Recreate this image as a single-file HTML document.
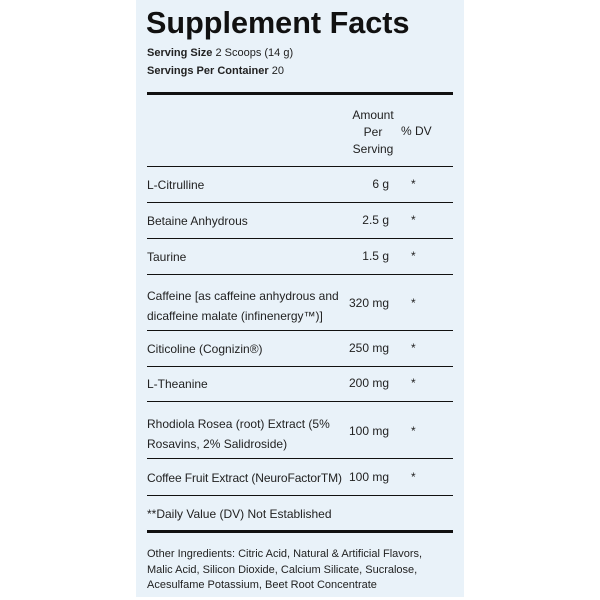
<!DOCTYPE html>
<html><head><style>
body{margin:0;width:600px;height:600px;background:#fff;position:relative;overflow:hidden;font-family:"Liberation Sans",Arial,sans-serif;color:#222}
#p{position:absolute;left:136px;top:0;width:328px;height:597px;background:#e9f2f9}
.t{position:absolute;white-space:nowrap;font-size:12px;line-height:14px}
.l{position:absolute;left:147px;width:306px;background:#111}
.r{text-align:right;width:80px}
</style></head><body>
<div id="p"></div>
<div class="t" style="left:146px;top:5px;font-size:30.6px;line-height:36px;font-weight:bold;color:#111">Supplement Facts</div>
<div class="t" style="left:147px;top:46px;font-size:11px"><b>Serving Size</b> 2 Scoops (14 g)</div>
<div class="t" style="left:147px;top:64px;font-size:11px"><b>Servings Per Container</b> 20</div>
<div class="l" style="top:92px;height:3px"></div>
<div class="t" style="left:352px;top:107px;text-align:center;width:42px;line-height:17px">Amount<br>Per<br>Serving</div>
<div class="t" style="left:401px;top:124px">% DV</div>
<div class="l" style="top:166px;height:1px"></div>

<div class="t" style="left:147px;top:178px">L-Citrulline</div><div class="t r" style="left:309px;top:177px">6 g</div><div class="t" style="left:411px;top:177px">*</div>
<div class="l" style="top:202px;height:1px"></div>
<div class="t" style="left:147px;top:214px">Betaine Anhydrous</div><div class="t r" style="left:309px;top:213px">2.5 g</div><div class="t" style="left:411px;top:213px">*</div>
<div class="l" style="top:238px;height:1px"></div>
<div class="t" style="left:147px;top:250px">Taurine</div><div class="t r" style="left:309px;top:249px">1.5 g</div><div class="t" style="left:411px;top:249px">*</div>
<div class="l" style="top:274px;height:1px"></div>
<div class="t" style="left:147px;top:286px;line-height:20px">Caffeine [as caffeine anhydrous and<br>dicaffeine malate (infinenergy™)]</div><div class="t r" style="left:309px;top:296px">320 mg</div><div class="t" style="left:411px;top:296px">*</div>
<div class="l" style="top:330px;height:1px"></div>
<div class="t" style="left:147px;top:342px">Citicoline (Cognizin®)</div><div class="t r" style="left:309px;top:341px">250 mg</div><div class="t" style="left:411px;top:341px">*</div>
<div class="l" style="top:366px;height:1px"></div>
<div class="t" style="left:147px;top:377px">L-Theanine</div><div class="t r" style="left:309px;top:376px">200 mg</div><div class="t" style="left:411px;top:376px">*</div>
<div class="l" style="top:401px;height:1px"></div>
<div class="t" style="left:147px;top:414px;line-height:20px">Rhodiola Rosea (root) Extract (5%<br>Rosavins, 2% Salidroside)</div><div class="t r" style="left:309px;top:424px">100 mg</div><div class="t" style="left:411px;top:424px">*</div>
<div class="l" style="top:458px;height:1px"></div>
<div class="t" style="left:147px;top:471px;letter-spacing:-0.1px">Coffee Fruit Extract (NeuroFactorTM)</div><div class="t r" style="left:309px;top:470px">100 mg</div><div class="t" style="left:411px;top:470px">*</div>
<div class="l" style="top:495px;height:1px"></div>
<div class="t" style="left:147px;top:507px">**Daily Value (DV) Not Established</div>
<div class="l" style="top:530px;height:3px"></div>
<div class="t" style="left:147px;top:547px;font-size:11px;line-height:15.5px">Other Ingredients: Citric Acid, Natural &amp; Artificial Flavors,<br>Malic Acid, Silicon Dioxide, Calcium Silicate, Sucralose,<br>Acesulfame Potassium, Beet Root Concentrate</div>
</body></html>
